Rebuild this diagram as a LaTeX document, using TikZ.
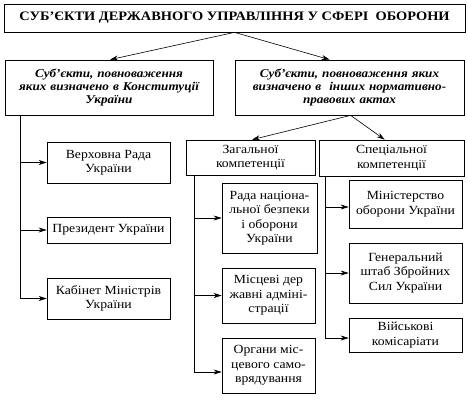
\documentclass[tikz,border=0pt]{standalone}
\usepackage{fontspec}
\setmainfont{Liberation Serif}[FakeStretch=1.1]
\newfontfamily\titlefont{Liberation Serif Bold}[FakeStretch=1.11]
\usetikzlibrary{arrows.meta,calc}
\begin{document}
\begin{tikzpicture}[x=1bp,y=-1bp,
  box/.style={draw, line width=0.7bp, align=center, inner sep=0pt, font=\fontsize{12.5}{14.5}\selectfont},
  headbox/.style={draw, line width=0.7bp, align=center, inner sep=0pt, font=\fontsize{12}{13.5}\selectfont\bfseries\itshape},
  titlebox/.style={draw, line width=0.7bp, align=center, inner sep=0pt, font=\fontsize{13}{14}\titlefont},
  arr/.style={line width=0.6bp, -{Stealth[length=8bp,width=5bp]}}]
\useasboundingbox (0,0) rectangle (468,400);

\node[titlebox, minimum width=461bp, minimum height=28bp] (title) at (234.5,18) {СУБ’ЄКТИ ДЕРЖАВНОГО УПРАВЛІННЯ У СФЕРІ\ \ ОБОРОНИ};

\node[headbox, minimum width=208bp, minimum height=55bp, text width=204bp] (L) at (109,87.5) {Суб’єкти, повноваження\\яких визначено в Конституції\\України};
\node[headbox, minimum width=229bp, minimum height=55bp, text width=225bp] (R) at (349.5,87.5) {Суб’єкти, повноваження яких\\визначено в\ \ інших нормативно-\\правових актах};

\node[box, minimum width=123bp, minimum height=41bp] (verh) at (108.5,162.5) {Верховна Рада\\України};
\node[box, minimum width=123bp, minimum height=26bp] (prez) at (108.5,230) {Президент України};
\node[box, minimum width=123bp, minimum height=41bp] (kab) at (108.5,298.5) {Кабінет Міністрів\\України};

\node[box, minimum width=129bp, minimum height=35bp] (zag) at (250.5,157.5) {Загальної\\компетенції};
\node[box, minimum width=145bp, minimum height=36bp] (spec) at (391.5,158) {Спеціальної\\компетенції};

\node[box, minimum width=95bp, minimum height=70bp] (rada) at (269.5,218) {Рада націона-\\льної безпеки\\і оборони\\України};
\node[box, minimum width=93bp, minimum height=55bp] (misc) at (268.5,295.5) {Місцеві дер\\жавні адміні-\\страції};
\node[box, minimum width=93bp, minimum height=55bp] (org) at (268.5,365.5) {Органи міс-\\цевого само-\\врядування};

\node[box, minimum width=113bp, minimum height=48bp] (min) at (405.5,204) {Міністерство\\оборони України};
\node[box, minimum width=113bp, minimum height=60bp] (gen) at (405.5,273) {Генеральний\\штаб Збройних\\Сил України};
\node[box, minimum width=113bp, minimum height=34bp] (viy) at (405.5,335) {Військові\\комісаріати};

% title arrows
\draw[arr] (title.south) -- ([xshift=1bp]L.north);
\draw[arr] (title.south) -- ([xshift=95bp]R.north west);
% right head arrows
\coordinate (rs) at ([xshift=116bp]R.south west);
\draw[arr] (rs) -- ([xshift=1.5bp]zag.north);
\draw[arr] (rs) -- ([xshift=66bp]spec.north west);

% left column
\coordinate (lv) at ([xshift=16bp]L.south west);
\draw[arr] (lv) |- (kab.west);
\draw[arr] (lv |- verh.west) -- (verh.west);
\draw[arr] (lv |- prez.west) -- (prez.west);

% general competence
\coordinate (gv) at ([xshift=9bp]zag.south west);
\draw[arr] (gv) |- ([yshift=-6.5bp]org.west);
\draw[arr] (gv |- rada.west) -- (rada.west);
\draw[arr] (gv |- misc.west) -- (misc.west);

% special competence
\coordinate (sv) at ([xshift=7bp]spec.south west);
\draw[arr] (sv) |- ([yshift=-3bp]viy.west);
\draw[arr] ([yshift=-3bp]sv |- min.west) -- ([yshift=-3bp]min.west);
\draw[arr] (sv |- gen.west) -- (gen.west);
\end{tikzpicture}
\end{document}
